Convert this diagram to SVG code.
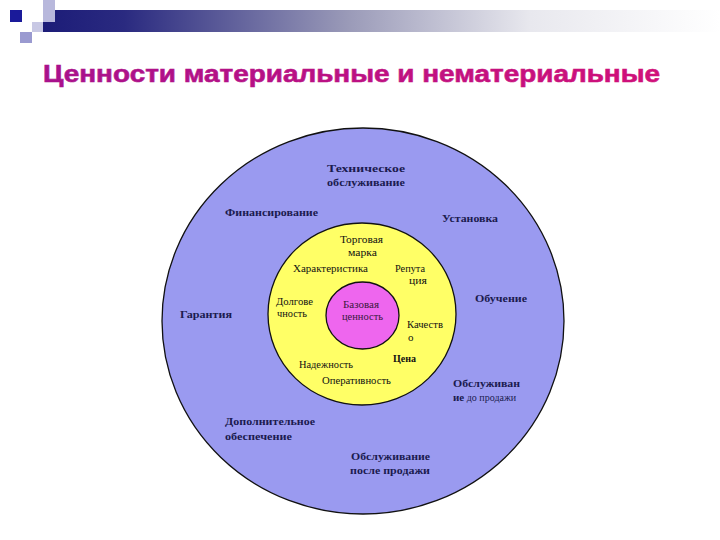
<svg xmlns="http://www.w3.org/2000/svg" width="720" height="540" viewBox="0 0 720 540">
  <defs>
    <linearGradient id="bar" x1="0" y1="0" x2="1" y2="0">
      <stop offset="0" stop-color="#1c1c78"/>
      <stop offset="0.12" stop-color="#2a2a80"/>
      <stop offset="0.45" stop-color="#9a9ab8"/>
      <stop offset="0.72" stop-color="#e8e8ee"/>
      <stop offset="1" stop-color="#ffffff"/>
    </linearGradient>
    <linearGradient id="title" x1="0" y1="0" x2="1" y2="0">
      <stop offset="0" stop-color="#a8118c"/>
      <stop offset="1" stop-color="#d0107a"/>
    </linearGradient>
  </defs>
  <style>
    .o{font-family:"Liberation Serif","DejaVu Serif",serif;font-weight:bold;font-size:11px;fill:#1b1b4f}
    .i{font-family:"Liberation Serif","DejaVu Serif",serif;font-size:11px;fill:#111}
    .ib{font-family:"Liberation Serif","DejaVu Serif",serif;font-weight:bold;font-size:11px;fill:#111}
    .c{font-family:"Liberation Serif","DejaVu Serif",serif;font-size:11px;fill:#3a1a40}
    .ring{stroke:#111;stroke-width:1.3}
  </style>
  <rect width="720" height="540" fill="#ffffff"/>
  <g id="header">
    <rect x="43" y="10" width="677" height="22" fill="url(#bar)"/>
    <rect x="43" y="0" width="12" height="22" fill="#b8b8dc"/>
    <rect x="32" y="22" width="11" height="10" fill="#c8c8e4"/>
    <rect x="20" y="32" width="12" height="11" fill="#9a9ad0"/>
    <rect x="10" y="10" width="12" height="12" fill="#1a1a9a"/>
  </g>
  <text x="43" y="82" textLength="617" lengthAdjust="spacingAndGlyphs" font-family="'Liberation Sans','DejaVu Sans',sans-serif" font-weight="bold" font-size="24" fill="url(#title)" stroke="url(#title)" stroke-width="0.6">Ценности материальные и нематериальные</text>
  <g id="outer">
    <ellipse class="ring" cx="363" cy="321" rx="201" ry="193" fill="#9a9af0"/>
  </g>
  <g id="middle">
    <ellipse class="ring" cx="362" cy="314" rx="94" ry="91" fill="#ffff66"/>
  </g>
  <g id="core">
    <ellipse class="ring" cx="362.5" cy="315.5" rx="36.5" ry="33.5" fill="#ee66ee"/>
  </g>
  <g id="outer-labels">
    <text class="o" x="327" y="172" textLength="78" lengthAdjust="spacingAndGlyphs">Техническое</text>
    <text class="o" x="327" y="186" textLength="78" lengthAdjust="spacingAndGlyphs">обслуживание</text>
    <text class="o" x="225" y="216" textLength="93" lengthAdjust="spacingAndGlyphs">Финансирование</text>
    <text class="o" x="442" y="222" textLength="56" lengthAdjust="spacingAndGlyphs">Установка</text>
    <text class="o" x="475" y="302" textLength="52" lengthAdjust="spacingAndGlyphs">Обучение</text>
    <text class="o" x="180" y="318" textLength="52" lengthAdjust="spacingAndGlyphs">Гарантия</text>
    <text class="o" x="453" y="387" textLength="67" lengthAdjust="spacingAndGlyphs">Обслуживан</text>
    <text class="o" x="453" y="401"><tspan>ие</tspan><tspan font-weight="normal" font-size="10"> до продажи</tspan></text>
    <text class="o" x="225" y="425" textLength="90" lengthAdjust="spacingAndGlyphs">Дополнительное</text>
    <text class="o" x="225" y="440" textLength="67" lengthAdjust="spacingAndGlyphs">обеспечение</text>
    <text class="o" x="351" y="460" textLength="79" lengthAdjust="spacingAndGlyphs">Обслуживание</text>
    <text class="o" x="350" y="474" textLength="80" lengthAdjust="spacingAndGlyphs">после продажи</text>
  </g>
  <g id="middle-labels">
    <text class="i" x="340" y="243" textLength="43" lengthAdjust="spacingAndGlyphs">Торговая</text>
    <text class="i" x="348" y="256" textLength="29" lengthAdjust="spacingAndGlyphs">марка</text>
    <text class="i" x="293" y="272" textLength="75" lengthAdjust="spacingAndGlyphs">Характеристика</text>
    <text class="i" x="395" y="272" textLength="30" lengthAdjust="spacingAndGlyphs">Репута</text>
    <text class="i" x="409" y="284" textLength="18" lengthAdjust="spacingAndGlyphs">ция</text>
    <text class="i" x="276" y="305" textLength="37" lengthAdjust="spacingAndGlyphs">Долгове</text>
    <text class="i" x="277" y="317" textLength="30" lengthAdjust="spacingAndGlyphs">чность</text>
    <text class="i" x="407" y="328" textLength="36" lengthAdjust="spacingAndGlyphs">Качеств</text>
    <text class="i" x="408" y="341">о</text>
    <text class="ib" x="393" y="362" textLength="23" lengthAdjust="spacingAndGlyphs">Цена</text>
    <text class="i" x="299" y="368" textLength="54" lengthAdjust="spacingAndGlyphs">Надежность</text>
    <text class="i" x="322" y="384" textLength="69" lengthAdjust="spacingAndGlyphs">Оперативность</text>
  </g>
  <g id="core-labels">
    <text class="c" x="343" y="308" textLength="36" lengthAdjust="spacingAndGlyphs">Базовая</text>
    <text class="c" x="342" y="320" textLength="41" lengthAdjust="spacingAndGlyphs">ценность</text>
  </g>
</svg>
